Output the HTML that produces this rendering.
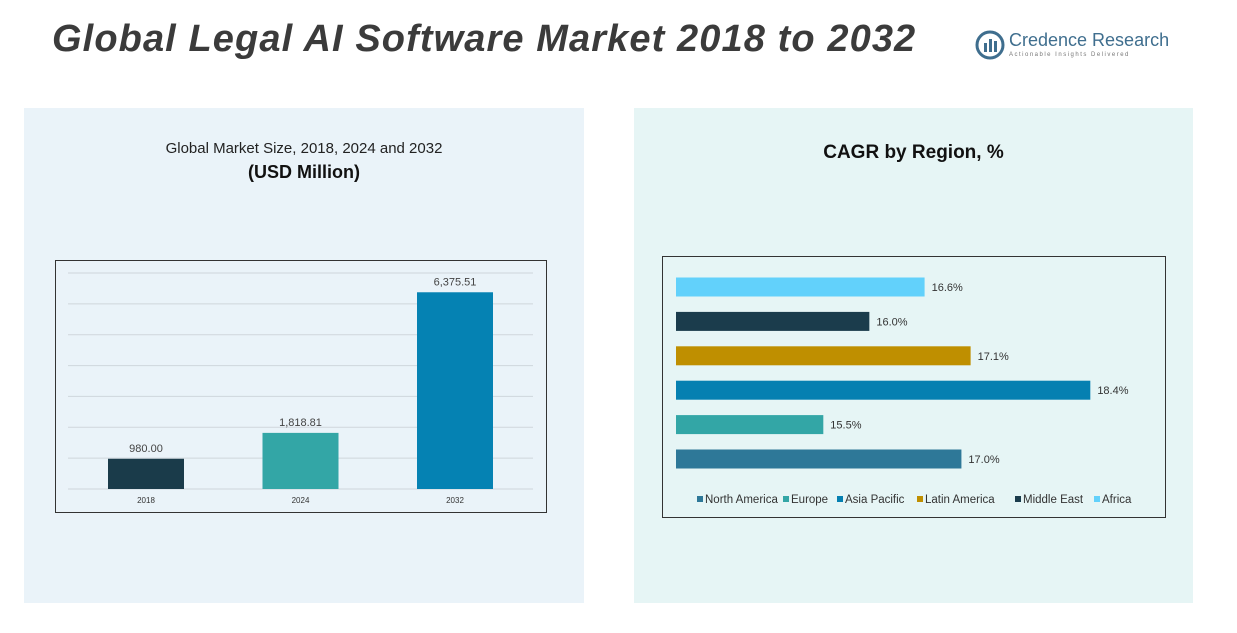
<!DOCTYPE html>
<html><head><meta charset="utf-8"><style>
body{margin:0;width:1237px;height:633px;background:#fff;position:relative;overflow:hidden;font-family:"Liberation Sans",sans-serif}
.abs{position:absolute}
</style></head><body>
<div class="abs" style="left:52px;top:18px;font-size:38px;font-weight:bold;font-style:italic;color:#3b3b3b;letter-spacing:1.1px">Global Legal AI Software Market 2018 to 2032</div>
<div class="abs" style="left:975px;top:30px;width:200px;height:32px">
<svg width="30" height="30" style="position:absolute;left:0;top:0"><circle cx="15" cy="15" r="13" fill="none" stroke="#3f6e8e" stroke-width="3"/><rect x="9" y="13" width="3" height="9" fill="#3f6e8e"/><rect x="14" y="9" width="3" height="13" fill="#3f6e8e"/><rect x="19" y="11" width="3" height="11" fill="#3f6e8e"/></svg>
<div style="position:absolute;left:34px;top:0;font-size:18px;color:#3f6e8e">Credence Research</div>
<div style="position:absolute;left:34px;top:22px;font-size:6px;color:#777;letter-spacing:1.5px">Actionable Insights Delivered</div>
</div>
<div class="abs" style="left:24px;top:108px;width:560px;height:495px;background:#eaf3f9"></div>
<div class="abs" style="left:634px;top:108px;width:559px;height:495px;background:#e6f5f5"></div>
<div class="abs" style="left:24px;top:140px;width:560px;text-align:center;font-size:15px;color:#222">Global Market Size, 2018, 2024 and 2032</div>
<div class="abs" style="left:24px;top:162px;width:560px;text-align:center;font-size:18px;font-weight:bold;color:#111">(USD Million)</div>
<div class="abs" style="left:634px;top:142px;width:559px;text-align:center;font-size:19px;font-weight:bold;color:#111">CAGR by Region, %</div>
<svg class="abs" style="left:0;top:0" width="1237" height="633" id="charts">
<rect x="55.5" y="260.5" width="491" height="252" fill="none" stroke="#333"/>
<rect x="662.5" y="256.5" width="503" height="261" fill="none" stroke="#333"/>
<g id="left"></g><g id="right"></g>
</svg>
<script>
const years=["2018","2024","2032"];
const sizes=[980.00,1818.81,6375.51];
const sizeLabels=["980.00","1,818.81","6,375.51"];
const gridTicks=[0,1000,2000,3000,4000,5000,6000,7000];
const regions=["Africa","Middle East","Latin America","Asia Pacific","Europe","North America"];
const cagr=[16.6,16.0,17.1,18.4,15.5,17.0];
const regionColors=["#62d1fb","#1b3c4c","#bf8f00","#0580b1","#33a6a6","#2e7898"];
const legendOrder=["North America","Europe","Asia Pacific","Latin America","Middle East","Africa"];
const legendColors=["#2e7898","#33a6a6","#0580b1","#bf8f00","#1b3c4c","#62d1fb"];
const barColors=["#1a3b4a","#33a6a6","#0582b3"];
const NS="http://www.w3.org/2000/svg";
function mk(t,a,p){const e=document.createElementNS(NS,t);for(const k in a)e.setAttribute(k,a[k]);p.appendChild(e);return e;}
const L=document.getElementById('left'),R=document.getElementById('right');
const y=v=>489-v*216/7000;
const bx=i=>146+i*154.5;
gridTicks.forEach(t=>{const g=mk('line',{x1:68,x2:533,y1:y(t),y2:y(t),stroke:'#cfd6dc','stroke-width':1},L);

});
years.forEach((yr,i)=>{
const r=mk('rect',{x:bx(i)-38,y:y(sizes[i]),width:76,height:489-y(sizes[i]),fill:barColors[i]},L);


const v=mk('text',{x:bx(i),y:y(sizes[i])-7,'text-anchor':'middle','font-size':11,fill:'#444'},L);v.textContent=sizeLabels[i];


const c=mk('text',{x:bx(i),y:503,'text-anchor':'middle','font-size':8,fill:'#333'},L);c.textContent=yr;

});
const xr=v=>676+(v-13.9)*92.07;
regions.forEach((rg,i)=>{const cy=287+i*34.4;
const r=mk('rect',{x:676,y:cy-9.5,width:xr(cagr[i])-676,height:19,fill:regionColors[i]},R);


const t=mk('text',{x:xr(cagr[i])+7,y:cy+4,'font-size':11,fill:'#333'},R);t.textContent=cagr[i].toFixed(1)+'%';

});
let lx=697;const lw=[86,54,80,98,79,44];
legendOrder.forEach((n,i)=>{
const s=mk('rect',{x:lx,y:496,width:6,height:6,fill:legendColors[i]},R);


const t=mk('text',{x:lx+8,y:503,'font-size':11.5,fill:'#333'},R);t.textContent=n;


lx+=lw[i];});
</script>
</body></html>
